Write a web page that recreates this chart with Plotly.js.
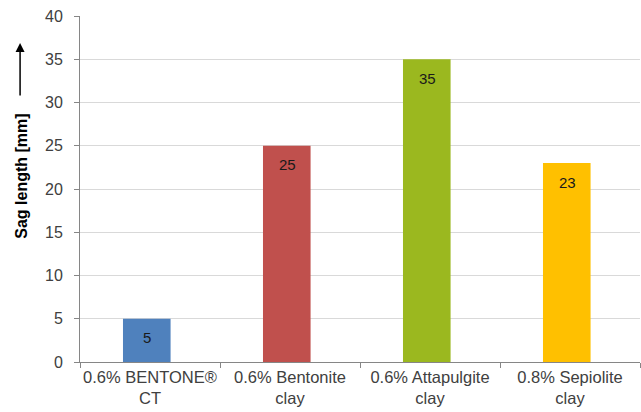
<!DOCTYPE html>
<html>
<head>
<meta charset="utf-8">
<script src="https://cdn.plot.ly/plotly-3.0.1.min.js"></script>
<style>html,body{margin:0;padding:0;background:#fff;}#chart{width:641px;height:412px;}</style>
</head>
<body>
<div id="chart"></div>
<script>
const categories = ["0.6% BENTONE®<br>CT", "0.6% Bentonite<br>clay", "0.6% Attapulgite<br>clay", "0.8% Sepiolite<br>clay"];
const values = [5, 25, 35, 23];
const colors = ["#4F81BD", "#C0504D", "#9BB81F", "#FFC000"];
const yTicks = [0, 5, 10, 15, 20, 25, 30, 35, 40];

const FONT = "Liberation Sans, Arial, sans-serif";

const trace = {
  type: "bar",
  x: categories,
  y: values,
  width: 0.34,
  offset: -0.193,
  marker: {color: colors},
  textposition: "none",
  hoverinfo: "none"
};

const labelAnns = categories.map((c, i) => ({
  x: c, y: values[i], xref: "x", yref: "y",
  xshift: -3,
  yshift: -19,
  yanchor: "middle", xanchor: "center",
  showarrow: false,
  text: String(values[i]),
  font: {family: FONT, size: 15, color: "#1a1a1a"}
}));

const layout = {
  width: 641, height: 412,
  margin: {l: 80, r: 1, t: 16, b: 50},
  paper_bgcolor: "#fff", plot_bgcolor: "#fff",
  showlegend: false,
  font: {family: FONT, size: 16, color: "#404040"},
  xaxis: {
    type: "category",
    showline: true, linecolor: "#868686", linewidth: 1,
    ticks: "outside", tickson: "boundaries", ticklen: 5, tickcolor: "#868686",
    tickangle: 0,
    showgrid: false,
    tickfont: {size: 16.5, color: "#404040"},
    range: [-0.5, 3.5]
  },
  yaxis: {
    range: [0, 40],
    tickvals: yTicks,
    showline: true, linecolor: "#868686", linewidth: 1,
    ticks: "outside", ticklen: 5, tickcolor: "#868686",
    ticklabelstandoff: 8,
    showgrid: true, gridcolor: "#d9d9d9", gridwidth: 1,
    zeroline: false,
    tickfont: {size: 16, color: "#404040"}
  },
  annotations: labelAnns.concat([
    {
      xref: "paper", yref: "paper",
      x: -0.105, y: 0.536,
      xanchor: "center", yanchor: "middle",
      textangle: -90,
      showarrow: false,
      text: "<b>Sag length [mm]</b>",
      font: {family: FONT, size: 16, color: "#000"}
    },
    {
      xref: "paper", yref: "paper",
      x: -0.107, y: 0.922,
      text: "",
      showarrow: true,
      axref: "pixel", ayref: "pixel",
      ax: 0, ay: 54,
      arrowhead: 2, arrowsize: 1.2, arrowwidth: 1.5,
      arrowcolor: "#000"
    }
  ])
};

Plotly.newPlot("chart", [trace], layout, {displayModeBar: false, staticPlot: true});
</script>
</body>
</html>
